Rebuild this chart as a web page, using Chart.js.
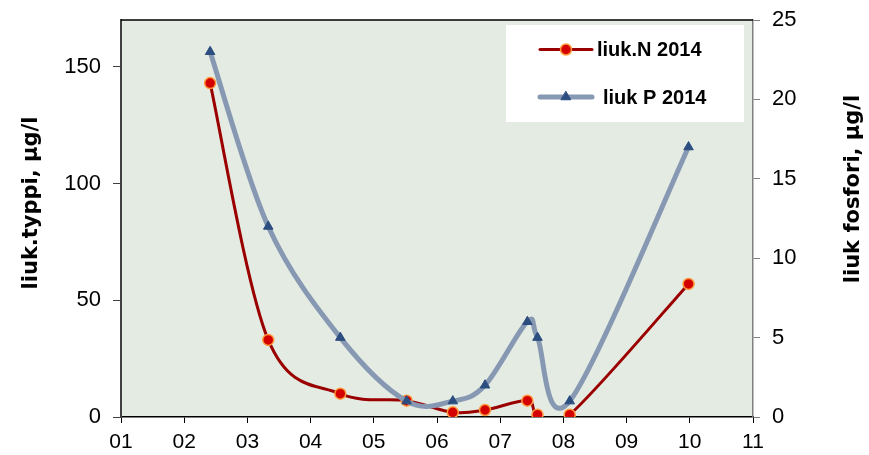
<!DOCTYPE html>
<html>
<head>
<meta charset="utf-8">
<script src="https://cdn.jsdelivr.net/npm/chart.js@4/dist/chart.umd.min.js"></script>
<style>
  html, body { margin: 0; padding: 0; background: #ffffff; }
  #wrap { width: 869px; height: 455px; }
</style>
</head>
<body>
<div id="wrap"><canvas id="c" width="869" height="455"></canvas></div>
<script>
// Sampling dates as decimal month (1 = January)
const sampleMonth = [2.41, 3.33, 4.47, 5.52, 6.25, 6.76, 7.43, 7.59, 8.10, 9.98];
// Dissolved nitrogen, µg/l (left axis)
const nitrogen = [143, 33, 10, 7, 2, 3, 7, 1, 1, 57];
// Dissolved phosphorus, µg/l (right axis)
const phosphorus = [23, 12, 5, 1, 1, 2, 6, 5, 1, 17];
// Axis tick labels
const monthLabels = ['01', '02', '03', '04', '05', '06', '07', '08', '09', '10', '11'];
const leftTicks = [0, 50, 100, 150];
const rightTicks = [0, 5, 10, 15, 20, 25];

const FONT = "'Liberation Sans', Arial, Helvetica, sans-serif";
const TITLE_FONT = "'DejaVu Sans', Verdana, sans-serif";
Chart.defaults.font.family = FONT;
Chart.defaults.color = '#000';

const toPoints = (xs, ys) => xs.map((x, i) => ({ x: x, y: ys[i] }));

// Scales keep a fixed footprint so the plot area stays put
const fixBox = (w, h) => s => {
  if (w !== null) s.width = w;
  if (h !== null) s.height = h;
  s.paddingTop = 0; s.paddingBottom = 0;
  s.paddingLeft = 0; s.paddingRight = 0;
};

// Plot area fill and top frame line
const plotFrame = {
  id: 'plotFrame',
  beforeDraw(chart) {
    const { ctx, chartArea: a } = chart;
    ctx.save();
    ctx.fillStyle = '#ffffff';
    ctx.fillRect(0, 0, chart.width, chart.height);
    ctx.fillStyle = '#E4EBE3';
    ctx.fillRect(a.left, a.top, a.right - a.left, a.bottom - a.top);
    ctx.restore();
  },
  afterDraw(chart) {
    const { ctx, chartArea: a } = chart;
    ctx.save();
    ctx.strokeStyle = '#000';
    ctx.lineWidth = 1.5;
    ctx.beginPath();
    ctx.moveTo(a.left, a.top);
    ctx.lineTo(a.right, a.top);
    ctx.stroke();
    ctx.restore();
  }
};

// Smoothed curve control points in the style of spreadsheet "smoothed line"
const smoothCurve = {
  id: 'smoothCurve',
  beforeDatasetsDraw(chart) {
    chart.data.datasets.forEach((ds, di) => {
      const meta = chart.getDatasetMeta(di);
      if (!meta.dataset || !meta.visible) return;
      meta.dataset.updateControlPoints(chart.chartArea, meta.iScale.axis);
      const pts = meta.data;
      const n = pts.length;
      for (let i = 0; i < n; i++) {
        const p = pts[i];
        const prev = pts[Math.max(i - 1, 0)];
        const next = pts[Math.min(i + 1, n - 1)];
        const tx = (next.x - prev.x) / 6;
        const ty = (next.y - prev.y) / 6;
        p.cp1x = p.x - tx; p.cp1y = p.y - ty;
        p.cp2x = p.x + tx; p.cp2y = p.y + ty;
      }
    });
  }
};

// Rotated axis titles (both read bottom to top)
const axisTitles = {
  id: 'axisTitles',
  afterDraw(chart) {
    const { ctx } = chart;
    const items = [
      { text: 'liuk.typpi, µg/l', x: 32, y: 203 },
      { text: 'liuk fosfori, µg/l', x: 854, y: 189 }
    ];
    ctx.save();
    ctx.fillStyle = '#000';
    ctx.font = 'bold 21px ' + TITLE_FONT;
    ctx.textAlign = 'center';
    ctx.textBaseline = 'middle';
    items.forEach(t => {
      ctx.save();
      ctx.translate(t.x, t.y);
      ctx.rotate(-Math.PI / 2);
      ctx.fillText(t.text, 0, 0);
      ctx.restore();
    });
    ctx.restore();
  }
};

// Legend box inside the plot area
const legendBox = {
  id: 'legendBox',
  afterDraw(chart) {
    const { ctx } = chart;
    ctx.save();
    ctx.fillStyle = '#ffffff';
    ctx.fillRect(506, 25, 238, 97);
    const rows = [
      { di: 0, y: 49.5, tx: 597 },
      { di: 1, y: 97, tx: 603 }
    ];
    rows.forEach(r => {
      const ds = chart.data.datasets[r.di];
      ctx.strokeStyle = ds.borderColor;
      ctx.lineWidth = ds.borderWidth;
      ctx.lineCap = 'round';
      ctx.beginPath();
      ctx.moveTo(540, r.y);
      ctx.lineTo(592, r.y);
      ctx.stroke();
      ctx.fillStyle = ds.pointBackgroundColor;
      ctx.strokeStyle = ds.pointBorderColor;
      ctx.lineWidth = ds.pointBorderWidth;
      Chart.helpers.drawPoint(ctx, {
        pointStyle: ds.pointStyle,
        radius: ds.pointRadius,
        borderWidth: ds.pointBorderWidth,
        rotation: 0
      }, 566, r.y);
      ctx.fillStyle = '#000';
      ctx.font = 'bold 20px ' + FONT;
      ctx.textAlign = 'left';
      ctx.textBaseline = 'middle';
      ctx.fillText(ds.label, r.tx, r.y + 1);
    });
    ctx.restore();
  }
};

new Chart(document.getElementById('c'), {
  type: 'line',
  data: {
    datasets: [
      {
        label: 'liuk.N 2014',
        data: toPoints(sampleMonth, nitrogen),
        yAxisID: 'yN',
        borderColor: '#9B0000',
        borderWidth: 3,
        tension: 0.4,
        pointStyle: 'circle',
        pointRadius: 5.5,
        pointBackgroundColor: '#D40000',
        pointBorderColor: '#FF9A3C',
        pointBorderWidth: 1.5,
        order: 1
      },
      {
        label: 'liuk P 2014',
        data: toPoints(sampleMonth, phosphorus),
        yAxisID: 'yP',
        borderColor: '#8798B2',
        borderWidth: 5,
        tension: 0.4,
        pointStyle: 'triangle',
        pointRadius: 5.5,
        pointBackgroundColor: '#2C4D7F',
        pointBorderColor: '#2C4D7F',
        pointBorderWidth: 1,
        order: 0
      }
    ]
  },
  options: {
    responsive: false,
    animation: false,
    events: [],
    layout: { padding: { top: 20, left: 0, right: 0, bottom: 0 } },
    plugins: {
      legend: { display: false },
      tooltip: { enabled: false },
      title: { display: false }
    },
    scales: {
      x: {
        type: 'linear',
        position: 'bottom',
        min: 1,
        max: 11,
        afterBuildTicks: s => { s.ticks = monthLabels.map((_, i) => ({ value: i + 1 })); },
        afterFit: fixBox(null, 38),
        ticks: {
          callback: v => monthLabels[Math.round(v) - 1],
          color: '#000',
          font: { size: 21 },
          padding: 7,
          maxRotation: 0,
          autoSkip: false
        },
        grid: { drawOnChartArea: false, drawTicks: true, tickLength: 6, color: '#000', lineWidth: 1 },
        border: { display: true, color: '#000', width: 1.5 }
      },
      yN: {
        type: 'linear',
        position: 'left',
        min: 0,
        max: 170,
        afterBuildTicks: s => { s.ticks = leftTicks.map(v => ({ value: v })); },
        afterFit: fixBox(121, null),
        ticks: { color: '#000', font: { size: 22 }, padding: 12 },
        grid: { drawOnChartArea: false, drawTicks: true, tickLength: 8, color: '#404040', lineWidth: 1 },
        border: { display: true, color: '#404040', width: 2 }
      },
      yP: {
        type: 'linear',
        position: 'right',
        min: 0,
        max: 25,
        afterBuildTicks: s => { s.ticks = rightTicks.map(v => ({ value: v })); },
        afterFit: fixBox(116, null),
        ticks: { color: '#000', font: { size: 22 }, padding: 12 },
        grid: { drawOnChartArea: false, drawTicks: true, tickLength: 7, color: '#808080', lineWidth: 1 },
        border: { display: true, color: '#808080', width: 1.5 }
      }
    }
  },
  plugins: [plotFrame, smoothCurve, axisTitles, legendBox]
});
</script>
</body>
</html>
